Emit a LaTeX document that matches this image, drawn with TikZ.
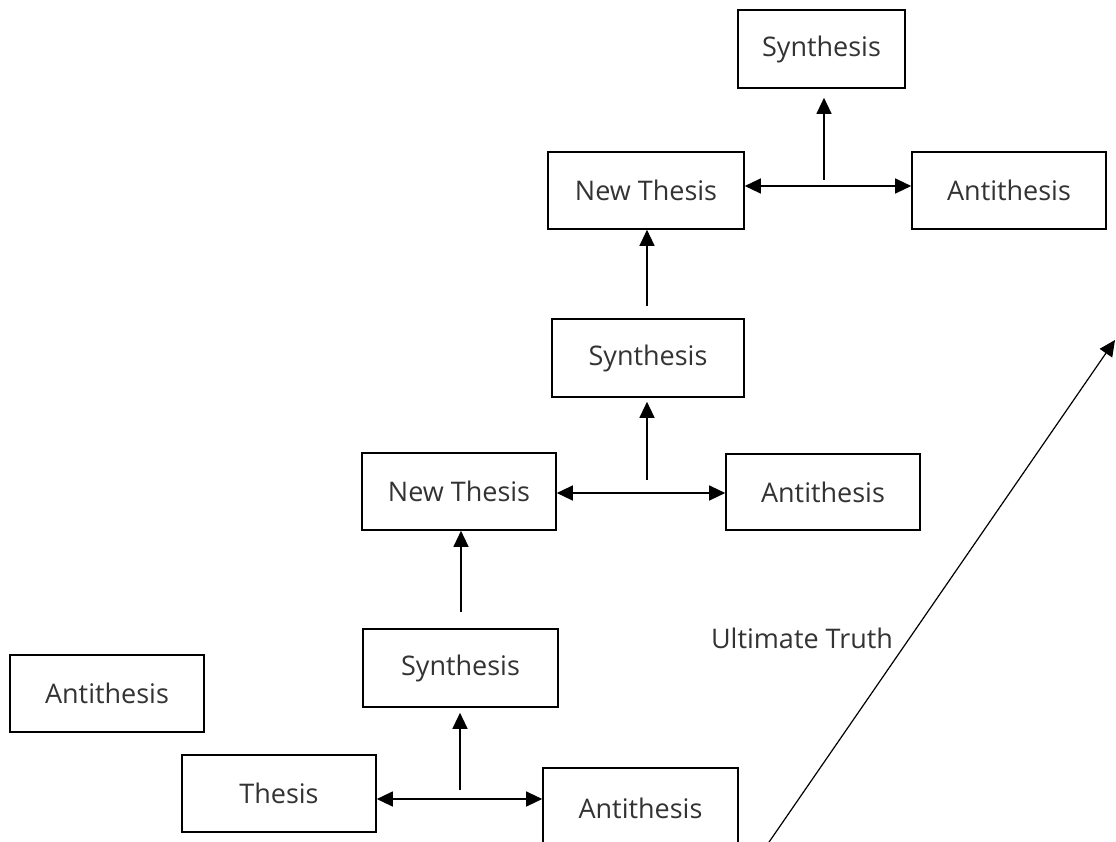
\documentclass[tikz,border=0pt]{standalone}
\usepackage{fontspec}
\setmainfont{Open Sans}
\usetikzlibrary{arrows.meta}
\begin{document}
\begin{tikzpicture}[x=1pt,y=-1pt,
  lbl/.style={font=\fontsize{27}{32}\selectfont,text=black!80},
  box/.style={lbl,draw,line width=1.6pt,inner sep=0pt},
  ln/.style={line width=1.2pt},
  arr/.style={ln,-{Triangle[length=16pt,width=15pt]}},
  dbl/.style={ln,{Triangle[length=16pt,width=15pt]}-{Triangle[length=16pt,width=15pt]}}]
\useasboundingbox (0,0) rectangle (1116,841);
\clip (0,0) rectangle (1116,841);
% boxes
\node[box,minimum width=167pt,minimum height=78pt] (s3) at (821.5,49) {Synthesis};
\node[box,minimum width=196pt,minimum height=77pt] (n2) at (646,190.5) {New Thesis};
\node[box,minimum width=194pt,minimum height=77pt] (a3) at (1009,190.5) {Antithesis};
\node[box,minimum width=192pt,minimum height=78pt] (s2) at (648,358) {Synthesis};
\node[box,minimum width=194pt,minimum height=77pt] (n1) at (459,491.5) {New Thesis};
\node[box,minimum width=194pt,minimum height=76pt] (a2) at (823,492) {Antithesis};
\node[box,minimum width=195pt,minimum height=78pt] (s1) at (460.5,668) {Synthesis};
\node[box,minimum width=194pt,minimum height=77pt] (a0) at (107,693.5) {Antithesis};
\node[box,minimum width=194pt,minimum height=77pt] (t) at (279,793.5) {Thesis};
\node[box,minimum width=195pt,minimum height=80pt] (a1) at (640.5,808) {Antithesis};
% text
\node[lbl] (ut) at (802,638) {Ultimate Truth};
% stubs
\coordinate (c1) at (460,790);
\coordinate (c2) at (647,480);
\coordinate (c3) at (824,180);
\coordinate (d1) at (461,612);
\coordinate (d2) at (647,306);
% level 1
\draw[dbl] (t.east |- 0,799) -- (a1.west |- 0,799);
\draw[arr] (c1) -- ([yshift=-5pt]s1.south -| c1);
\draw[arr] (d1) -- (n1.south -| d1);
% level 2
\draw[dbl] (n1.east |- 0,493) -- (a2.west |- 0,493);
\draw[arr] (c2) -- ([yshift=-4pt]s2.south -| c2);
\draw[arr] (d2) -- (n2.south -| d2);
% level 3
\draw[dbl] (n2.east |- 0,186) -- (a3.west |- 0,186);
\draw[arr] (c3) -- ([yshift=-9pt]s3.south -| c3);
% ultimate truth
\coordinate (u0) at (767,845);
\coordinate (u1) at (1115,340);
\draw[arr] (u0) -- (u1);
\end{tikzpicture}
\end{document}
